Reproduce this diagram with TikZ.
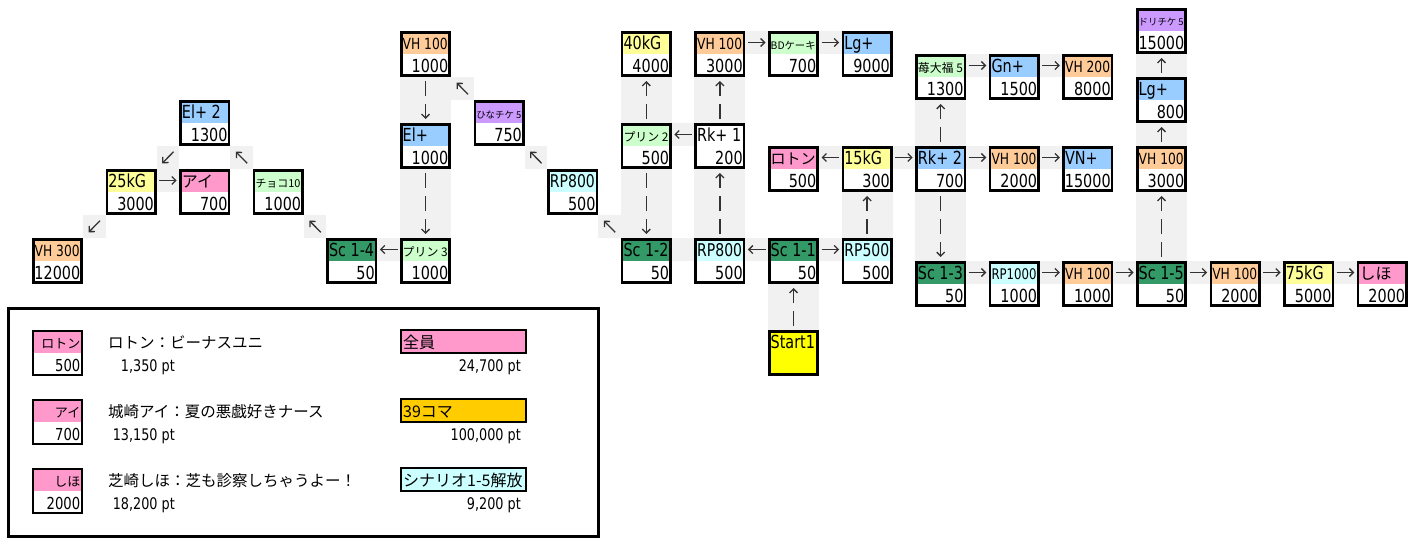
\documentclass[tikz,border=0pt]{standalone}
\usepackage{fontspec}
\setmainfont{DejaVu Sans}[FakeStretch=0.8]
\newfontfamily\jpfont{Noto Sans CJK JP}
\usepackage{graphicx}
\usetikzlibrary{arrows.meta}

\definecolor{hOrange}{HTML}{FFCC99}
\definecolor{hYellow}{HTML}{FFFF99}
\definecolor{hPink}{HTML}{FF99CC}
\definecolor{hBlue}{HTML}{99CCFF}
\definecolor{hLime}{HTML}{CCFFCC}
\definecolor{hCyan}{HTML}{CCFFFF}
\definecolor{hGreen}{HTML}{339966}
\definecolor{hPurple}{HTML}{CC99FF}
\definecolor{hStart}{HTML}{FFFF00}
\definecolor{hGold}{HTML}{FFCC00}

% shrink a header text to the cell width, like a sheet does
\newsavebox\labelbox
\newcommand{\fit}[2][45pt]{\sbox\labelbox{#2}\ifdim\wd\labelbox>#1\resizebox{#1}{!}{\usebox\labelbox}\else\usebox\labelbox\fi}
\newcommand{\jp}[1]{{\fontsize{16}{18}\selectfont\jpfont #1}}

\tikzset{
  blk/.style={draw, line width=2.6pt, minimum width=48.4pt, minimum height=43.4pt, inner sep=0pt,
    path picture={\fill[#1] (path picture bounding box.north west) rectangle (path picture bounding box.east);}}, % coloured top half
  hdr/.style={anchor=base west, inner sep=0pt, font=\fontsize{18}{20}\selectfont},
  val/.style={anchor=base east, inner sep=0pt, font=\fontsize{18}{20}\selectfont},
  stip/.style={fill=gray!11}, % dotted cells behind the arrows
  link/.style={draw=black!80, line width=1.3pt, -{Straight Barb[length=4pt,width=8pt]}},
  harr/.style={link, shorten <=2.5pt, shorten >=2.5pt},
  varr/.style={link, dash pattern=on 15pt off 8pt, shorten <=4pt, shorten >=4pt},
  sarr/.style={link, shorten <=4pt, shorten >=4pt},
  darr/.style={link, shorten <=8pt, shorten >=8pt},
  note/.style={inner sep=0pt, font=\fontsize{15.5}{17}\selectfont\jpfont},
  pts/.style={anchor=base east, inner sep=0pt, font=\fontsize{16}{18}\selectfont},
}

% name, column, row, colour, header, value
\newcommand{\blk}[6]{%
  \node[blk=#4] (#1) at ({57.5+73.6*#2},{31+23*#3}) {};
  \node[hdr] (#1-h) at ([xshift=2.5pt,yshift=5pt]#1.west) {\fit{#5}};
  \node[val] (#1-v) at ([xshift=-2.5pt,yshift=-18pt]#1.east) {#6};
}

\begin{document}
\begin{tikzpicture}[x=1pt, y=-1pt]
  \useasboundingbox (0,0) rectangle (1427,538);

  % dotted cells: arrow column / row
  \foreach \c/\r in {1/7, 4/10, 8/5, 9/10, 10/10, 9/1, 10/1, 10/6, 11/6, 12/2, 13/2, 12/6, 13/6,
                     12/11, 13/11, 14/11, 15/11, 16/11, 17/11, 8/10,
                     0/9, 1/6, 2/6, 3/9, 5/3, 6/6, 7/9}
    \fill[stip] ({83+73.6*\c},{8+23*\r}) rectangle +(22.6,23);
  % dotted cells: box column / first row / last row
  \foreach \c/\a/\b in {5/3/4, 5/7/9, 8/3/4, 8/7/9, 9/7/9, 9/3/4, 10/12/13, 11/8/9,
                        12/4/5, 12/8/10, 15/8/10, 15/5/5, 15/2/2}
    \fill[stip] ({32+73.6*\c},{8+23*\a}) rectangle ({83+73.6*\c},{31+23*\b});

  % left part
  \blk{vh300}{0}{10}{hOrange}{VH 300}{12000}
  \blk{kg25}{1}{7}{hYellow}{25kG}{3000}
  \blk{ai}{2}{7}{hPink}{\jp{アイ}}{700}
  \blk{elp2}{2}{4}{hBlue}{El+ 2}{1300}
  \blk{choco}{3}{7}{hLime}{\jp{チョコ10}}{1000}
  \blk{sc14}{4}{10}{hGreen}{Sc 1-4}{50}
  \blk{purin3}{5}{10}{hLime}{\jp{プリン 3}}{1000}
  \blk{elp}{5}{5}{hBlue}{El+}{1000}
  \blk{vh100a}{5}{1}{hOrange}{VH 100}{1000}
  \blk{hina}{6}{4}{hPurple}{\jp{ひなチケ 5}}{750}
  \blk{rp800a}{7}{7}{hCyan}{RP800}{500}
  \blk{sc12}{8}{10}{hGreen}{Sc 1-2}{50}
  \blk{purin2}{8}{5}{hLime}{\jp{プリン 2}}{500}
  \blk{kg40}{8}{1}{hYellow}{40kG}{4000}

  % middle part
  \blk{rp800b}{9}{10}{hCyan}{RP800}{500}
  \blk{rk1}{9}{5}{white}{Rk+ 1}{200}
  \blk{vh100b}{9}{1}{hOrange}{VH 100}{3000}
  \blk{bdcake}{10}{1}{hLime}{\jp{BDケーキ}}{700}
  \blk{lg9000}{11}{1}{hBlue}{Lg+}{9000}
  \blk{sc11}{10}{10}{hGreen}{Sc 1-1}{50}
  \blk{roton}{10}{6}{hPink}{\jp{ロトン}}{500}
  \blk{rp500}{11}{10}{hCyan}{RP500}{500}
  \blk{kg15}{11}{6}{hYellow}{15kG}{300}
  \node[blk=hStart, fill=hStart] (start) at ({57.5+73.6*10},{31+23*14}) {};
  \node[hdr] (start-h) at ([xshift=2.5pt,yshift=5pt]start.west) {Start1};

  % right part
  \blk{rk2}{12}{6}{hBlue}{Rk+ 2}{700}
  \blk{ichigo}{12}{2}{hLime}{\jp{苺大福 5}}{1300}
  \blk{gn}{13}{2}{hBlue}{Gn+}{1500}
  \blk{vh200}{14}{2}{hOrange}{VH 200}{8000}
  \blk{vh100c}{13}{6}{hOrange}{VH 100}{2000}
  \blk{vn}{14}{6}{hBlue}{VN+}{15000}
  \blk{sc13}{12}{11}{hGreen}{Sc 1-3}{50}
  \blk{rp1000}{13}{11}{hCyan}{RP1000}{1000}
  \blk{vh100d}{14}{11}{hOrange}{VH 100}{1000}
  \blk{sc15}{15}{11}{hGreen}{Sc 1-5}{50}
  \blk{vh100e}{15}{6}{hOrange}{VH 100}{3000}
  \blk{lg800}{15}{3}{hBlue}{Lg+}{800}
  \blk{dori}{15}{0}{hPurple}{\jp{ドリチケ 5}}{15000}
  \blk{vh100f}{16}{11}{hOrange}{VH 100}{2000}
  \blk{kg75}{17}{11}{hYellow}{75kG}{5000}
  \blk{shiho}{18}{11}{hPink}{\jp{しほ}}{2000}

  % horizontal arrows, on the header row
  \foreach \a/\b in {kg25/ai, sc11/rp500, vh100b/bdcake, bdcake/lg9000, kg15/rk2,
                     ichigo/gn, gn/vh200, rk2/vh100c, vh100c/vn, sc13/rp1000, rp1000/vh100d,
                     vh100d/sc15, sc15/vh100f, vh100f/kg75, kg75/shiho}
    \draw[harr] ([yshift=11.5pt]\a.east) -- ([yshift=11.5pt]\b.west);
  \foreach \a/\b in {purin3/sc14, rk1/purin2, sc11/rp800b, kg15/roton}
    \draw[harr] ([yshift=11.5pt]\a.west) -- ([yshift=11.5pt]\b.east);

  % vertical arrows
  \foreach \a/\b in {vh100a/elp, elp/purin3, purin2/sc12, rk2/sc13}
    \draw[varr] (\a.south) -- (\b.north);
  \foreach \a/\b in {purin2/kg40, rp800b/rk1, rk1/vh100b, start/sc11, rp500/kg15, rk2/ichigo, sc15/vh100e}
    \draw[varr] (\a.north) -- (\b.south);
  \draw[sarr] (vh100e.north) -- (lg800.south);
  \draw[sarr] (lg800.north) -- (dori.south);

  % diagonal arrows
  \draw[darr] (kg25.south west) -- (vh300.north east);
  \draw[darr] (elp2.south west) -- (kg25.north east);
  \foreach \a/\b in {choco/elp2, sc14/choco, hina/vh100a, rp800a/hina, sc12/rp800a}
    \draw[darr] (\a.north west) -- (\b.south east);

  % legend
  \draw[line width=3pt] (8,308) rectangle (598,536);
  \foreach \n/\r/\h/\v/\t/\p in {lgroton/14/ロトン/500/ロトン：ビーナスユニ/{1,350 pt},
                                 lgai/17/アイ/700/城崎アイ：夏の悪戯好きナース/{13,150 pt},
                                 lgshiho/20/しほ/2000/芝崎しほ：芝も診察しちゃうよー！/{18,200 pt}} {
    \node[blk=hPink, line width=2pt, minimum width=49pt, minimum height=44pt] (\n) at (57.5,{31+23*\r}) {};
    \node[anchor=base east, inner sep=0pt, font=\fontsize{13}{14}\selectfont\jpfont] (\n-h) at ([xshift=-2.5pt,yshift=5pt]\n.east) {\h};
    \node[anchor=base east, inner sep=0pt, font=\fontsize{16.5}{18}\selectfont] (\n-v) at ([xshift=-2.5pt,yshift=-18pt]\n.east) {\v};
    \node[note, anchor=base west] (\n-t) at (108,{26+23*\r}) {\t};
    \node[pts] (\n-p) at (175,{49+23*\r}) {\p};
  }
  \foreach \n/\r/\c/\t/\p in {lgall/14/hPink/全員/{24,700 pt},
                              lgkoma/17/hGold/39コマ/{100,000 pt},
                              lgsc/20/hCyan/シナリオ1-5解放/{9,200 pt}} {
    \node[draw, line width=2pt, fill=\c, minimum width=125pt, minimum height=23pt, inner sep=0pt] (\n) at (463.5,{19.5+23*\r}) {};
    \node[anchor=base west, inner sep=0pt] (\n-t) at (403,{26+23*\r}) {\fit[121pt]{\jp{\t}}};
    \node[pts] (\n-p) at (521,{49+23*\r}) {\p};
  }
\end{tikzpicture}
\end{document}
